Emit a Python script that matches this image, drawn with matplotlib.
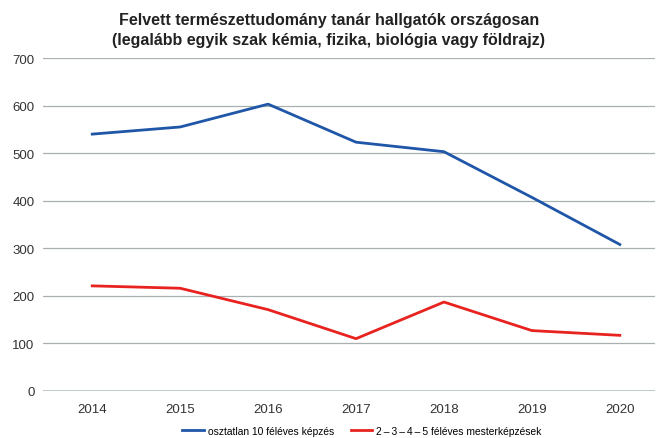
import matplotlib
matplotlib.use("Agg")
import matplotlib.pyplot as plt

years = ["2014", "2015", "2016", "2017", "2018", "2019", "2020"]
osztatlan = [540, 555, 603, 523, 503, 407, 308]
mester = [221, 216, 171, 110, 187, 127, 117]
yticks = [0, 100, 200, 300, 400, 500, 600, 700]

plt.rcParams['font.family'] = ['Liberation Sans', 'DejaVu Sans']

fig = plt.figure(figsize=(6.58, 4.39), dpi=100)
ax = fig.add_axes([43/658, 1-392/439, (655-43)/658, (392-59)/439])

x = list(range(len(years)))
ax.plot(x, osztatlan, color="#1f56a8", lw=2.0, label="osztatlan 10 féléves képzés")
ax.plot(x, mester, color="#e8231f", lw=2.0,
        label="2\u2009\u2013\u20093\u2009\u2013\u20094\u2009\u2013\u20095 féléves mesterképzések")

ax.set_ylim(0, 700)
ax.set_xlim(-0.56, 6.4)
ax.set_yticks(yticks)
ax.set_xticks(x)
ax.set_xticklabels(years)
for t in yticks:
    if t == 0:
        ax.axhline(t, color="#b8c4c8", lw=2.0, zorder=0)
    else:
        ax.axhline(t, color="#a9b0b0", lw=0.9, zorder=0)
for s in ax.spines.values():
    s.set_visible(False)
ax.tick_params(axis='both', length=0, labelsize=9.5, colors="#333333")
ax.tick_params(axis='y', pad=6)
ax.tick_params(axis='x', pad=9)

fig.text(0.5, 1-20/439, "Felvett természettudomány tanár hallgatók országosan",
         ha="center", va="center", fontsize=11.5, fontweight="bold", color="#222222")
fig.text(0.5, 1-40/439, "(legalább egyik szak kémia, fizika, biológia vagy földrajz)",
         ha="center", va="center", fontsize=11.5, fontweight="bold", color="#222222")

fig.legend(loc="center", bbox_to_anchor=(0.55, 1-432/439), ncol=2, frameon=False,
           fontsize=7.4, handlelength=2.1, columnspacing=1.6, handletextpad=0.4)

fig.savefig("out.png", dpi=100)
